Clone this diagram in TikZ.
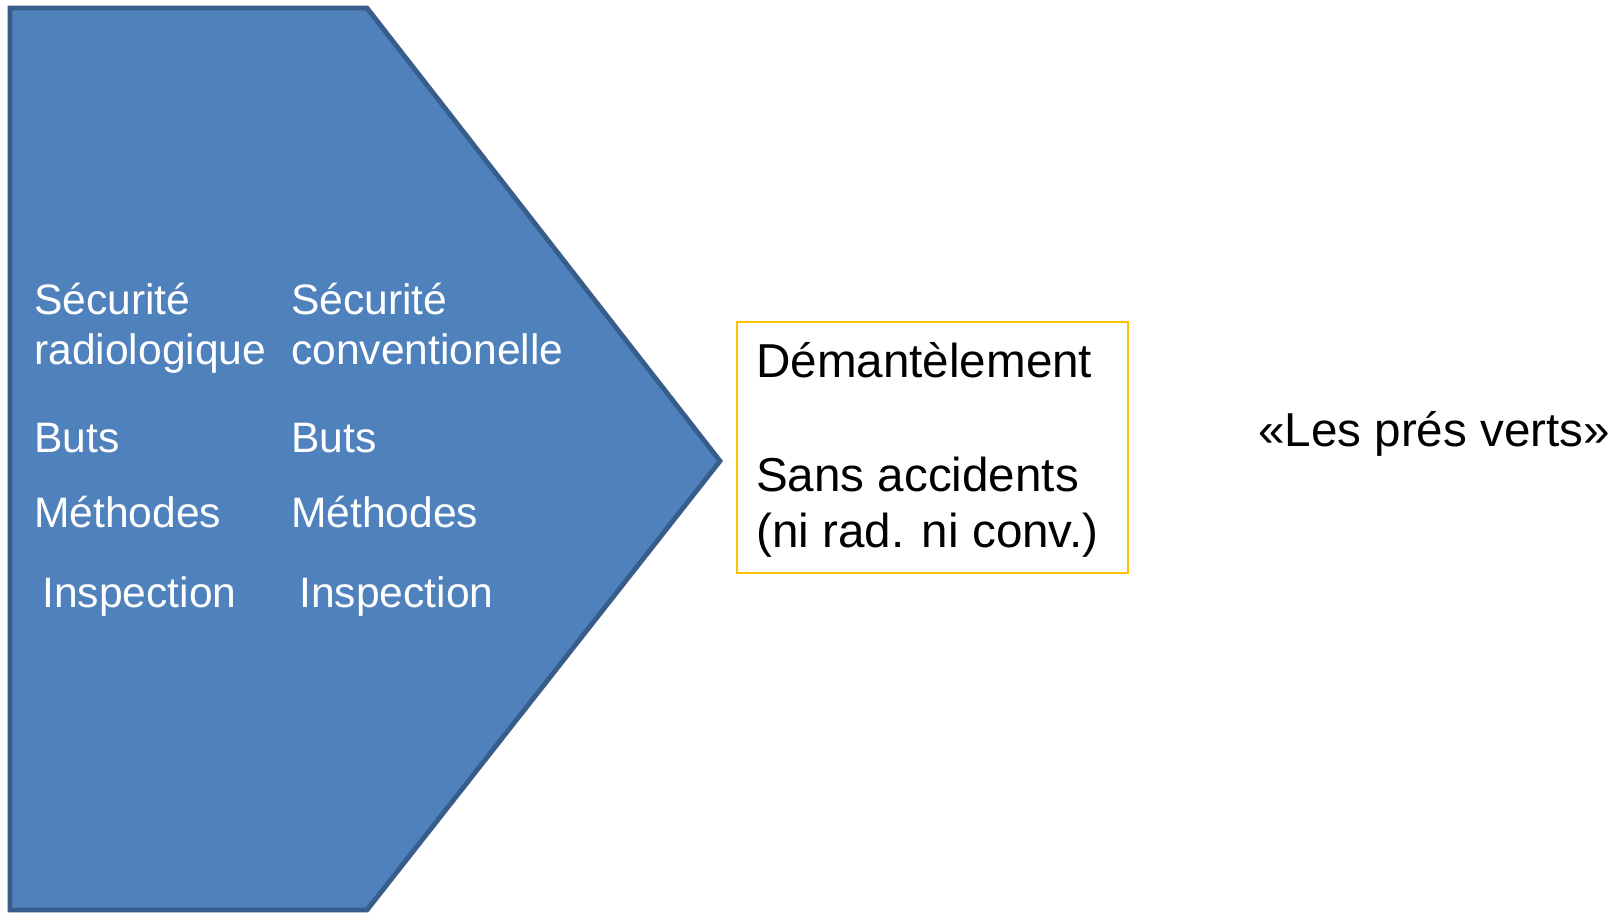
\documentclass[tikz,border=0pt]{standalone}
\usepackage{fontspec}
\setmainfont{Liberation Sans}
\definecolor{pfill}{HTML}{4F81BD}
\definecolor{pline}{HTML}{385D8A}
\definecolor{boxorange}{HTML}{FFC000}
\begin{document}
\begin{tikzpicture}[x=1pt,y=-1pt,
  wtext/.style={anchor=base west, inner sep=0pt, text=white, font=\fontsize{42.6}{50}\selectfont},
  btext/.style={anchor=base west, inner sep=0pt, text=black, font=\fontsize{47.6}{56}\selectfont},
  framebox/.style={draw=boxorange, line width=1.6pt, anchor=north west, inner sep=0pt, minimum width=391pt, minimum height=251pt}]
\useasboundingbox (0,0) rectangle (1620,914);
\fill[white] (0,0) rectangle (1620,914);
\draw[fill=pfill, draw=pline, line width=4.8pt, line join=miter]
  (10,8) -- (367,8) -- (720,461) -- (367,910) -- (10,910) -- cycle;
% left column
\node[wtext] (s1) at (34,314) {Sécurité};
\node[wtext] (r1) at (34,364) {radiologique};
\node[wtext] (b1) at (34,452) {Buts};
\node[wtext] (m1) at (34,527) {Méthodes};
\node[wtext] (i1) at (42,607) {Inspection};
% right column
\node[wtext] (s2) at (291,314) {Sécurité};
\node[wtext] (c2) at (291,364) {conventionelle};
\node[wtext] (b2) at (291,452) {Buts};
\node[wtext] (m2) at (291,527) {Méthodes};
\node[wtext] (i2) at (299,607) {Inspection};
% box
\node[framebox] (box) at (736,321) {};
\node[btext] (d) at (756,377) {Démantèlement};
\node[btext] (sa) at (756,491) {Sans accidents};
\node[btext] (ni) at (756,547) {(ni rad. ni conv.)};
% right text
\node[btext] (pv) at (1258,446) {«Les prés verts»};
\end{tikzpicture}
\end{document}
